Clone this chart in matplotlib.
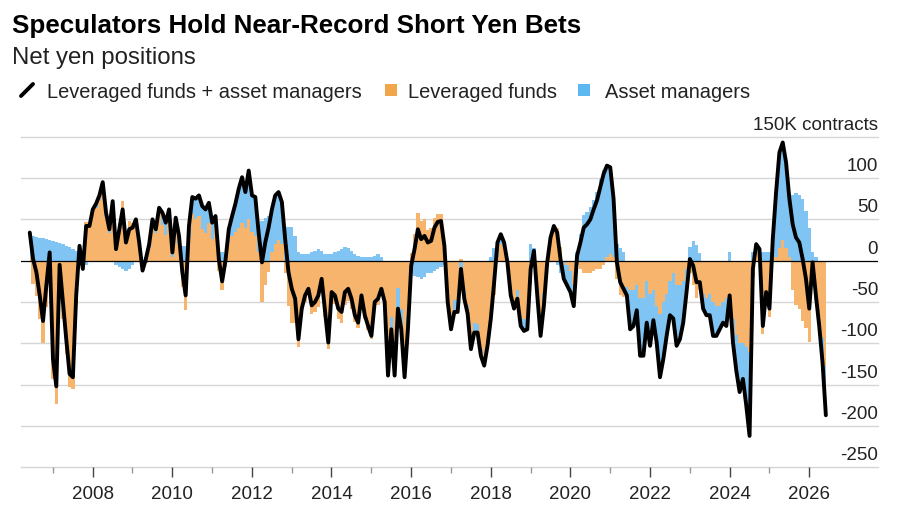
import numpy as np
import matplotlib.pyplot as plt
import matplotlib.transforms as mtransforms
from matplotlib.lines import Line2D
from matplotlib.patches import Rectangle

plt.rcParams['font.family'] = ['Liberation Sans', 'DejaVu Sans']

# --------------------------------------------------
# Data (thousand contracts), monthly, first point mid-2006
# --------------------------------------------------
start_year = 2006.42

total = [
    34, 2, -14, -42, -73, -30, 10, -119, -152, -5,
    -50, -95, -137, -141, -42, 18, -10, 42, 42, 62,
    69, 79, 95, 58, 38, 72, 14, 38, 62, 22,
    38, 40, 50, 22, -12, 2, 20, 50, 38, 64,
    58, 46, 62, 10, 52, 30, -14, -42, 42, 77,
    75, 79, 66, 62, 70, 46, 54, 2, -25, 0,
    38, 54, 69, 87, 101, 83, 109, 79, 77, 34,
    -2, 22, 40, 62, 79, 83, 71, 26, -14, -34,
    -46, -95, -58, -42, -34, -54, -50, -42, -22, -60,
    -99, -38, -42, -58, -62, -38, -34, -46, -66, -75,
    -42, -66, -79, -91, -50, -46, -34, -50, -139, -83,
    -139, -58, -83, -141, -83, -6, 14, 38, 26, 30,
    22, 24, 40, 47, 48, 18, -50, -83, -62, -62,
    -10, -46, -64, -107, -87, -87, -115, -127, -103, -70,
    -26, 22, 32, 22, -2, -42, -58, -46, -79, -85,
    -83, -10, 12, -42, -91, -54, -2, 28, 42, 34,
    2, -22, -30, -38, -55, 6, 22, 40, 44, 50,
    62, 73, 89, 105, 115, 113, 75, -2, -26, -34,
    -42, -83, -79, -60, -115, -115, -75, -103, -72, -99,
    -141, -119, -91, -66, -70, -103, -95, -75, -38, 2,
    -6, -26, -26, -58, -66, -66, -91, -91, -83, -75,
    -79, -42, -99, -133, -159, -143, -175, -212, -10, 20,
    14, -79, -38, -58, 26, 83, 131, 143, 119, 75,
    44, 28, 22, 2, -22, -58, -2, -42, -79, -123,
    -187,
]

asset_managers = [
    30, 30, 29, 28, 27, 26, 25, 24, 22, 21,
    20, 18, 16, 14, 12, 10, -5, -5, 0, 2,
    5, 5, 5, 5, 5, 2, -5, -8, -10, -12,
    -10, -5, 0, 2, 0, 5, 5, 5, 5, 5,
    15, 15, 10, 5, 5, 10, 18, 18, 15, 20,
    25, 25, 28, 28, 25, 20, 15, 15, 10, 8,
    15, 24, 34, 47, 56, 43, 59, 44, 47, 24,
    48, 52, 54, 52, 59, 58, 51, 41, 41, 41,
    30, 10, 8, 8, 8, 10, 12, 14, 12, 8,
    8, 8, 10, 12, 14, 16, 15, 12, 8, 6,
    5, 5, 5, 4, 6, 8, 5, 0, -10, -15,
    -20, -25, -25, -20, -15, -15, -18, -20, -22, -20,
    -15, -15, -12, -10, -8, -5, -10, -12, -15, -15,
    -12, -10, -10, -12, -12, -10, -8, -8, -5, 5,
    15, 18, 12, 5, 0, -5, -8, -10, -12, -15,
    -15, 20, 15, -10, -15, -15, 0, 0, 0, -5,
    -15, -20, -25, -25, -25, 11, 32, 55, 59, 65,
    74, 83, 99, 110, 110, 105, 70, 20, 15, 10,
    -10, -48, -44, -30, -70, -70, -50, -63, -37, -44,
    -76, -69, -51, -41, -55, -73, -65, -50, -28, 17,
    24, 19, 9, -18, -21, -26, -41, -36, -28, -25,
    -34, 10, -29, -43, -59, -43, -70, -102, 10, 10,
    10, 10, 10, 10, 26, 78, 116, 118, 104, 70,
    80, 82, 80, 75, 60, 40, 10, 5, -5, -30,
    -60,
]

year_ticks = list(range(2008, 2027, 2))
minor_ticks = list(range(2007, 2026, 2))
y_levels = [150, 100, 50, 0, -50, -100, -150, -200, -250]
y_labels = ["150K contracts", "100", "50", "0", "-50", "-100", "-150", "-200", "-250"]

ORANGE = "#F6B46C"
BLUE = "#7FC4F2"
ORANGE_KEY = "#F2A64A"
BLUE_KEY = "#5CB8F0"

# --------------------------------------------------
# Derived series
# --------------------------------------------------
total = np.array(total, dtype=float)
asset_managers = np.array(asset_managers, dtype=float)
leveraged = total - asset_managers
dates = start_year + np.arange(len(total)) / 12

same_side = np.sign(asset_managers) == np.sign(leveraged)
blue_bottom = np.where(same_side, leveraged, 0)

# --------------------------------------------------
# Figure
# --------------------------------------------------
W, H = 900, 510
fig = plt.figure(figsize=(W / 100, H / 100), dpi=100)
ax = fig.add_axes([21 / W, 1 - 468.3 / H, (878 - 21) / W, (468.3 - 137.7) / H])

ax.fill_between(dates, 0, leveraged, step="mid", color=ORANGE, lw=0, zorder=1)
ax.fill_between(dates, blue_bottom, blue_bottom + asset_managers, step="mid",
                color=BLUE, lw=0, zorder=1)
ax.plot(dates, total, color="black", lw=2.8, solid_joinstyle="round",
        solid_capstyle="round", zorder=5)

for v in y_levels:
    if v == 0:
        continue
    ax.axhline(v, color="#d6d6d6", lw=1, zorder=0, clip_on=False)
ax.axhline(0, color="black", lw=0.9, zorder=3)

ax.set_xlim(2006.2, 2027.73)
ax.set_ylim(-250, 150)
for s in ax.spines.values():
    s.set_visible(False)
ax.set_yticks([])

ax.set_xticks(year_ticks)
ax.set_xticklabels([str(y) for y in year_ticks])
ax.set_xticks(minor_ticks, minor=True)
ax.tick_params(axis="x", which="major", length=7, width=1, color="#444",
               pad=6, labelsize=13.5, labelcolor="#222")
ax.tick_params(axis="x", which="minor", length=4, width=1, color="#999")

trans = mtransforms.offset_copy(ax.get_yaxis_transform(), fig=fig,
                                x=0, y=8, units="dots")
for v, lab in zip(y_levels, y_labels):
    ax.text(1.0, v, lab, transform=trans, ha="right", va="baseline",
            fontsize=13.5, color="#222")

# --------------------------------------------------
# Title, subtitle, legend
# --------------------------------------------------
fig.text(12 / W, 1 - 33 / H, "Speculators Hold Near-Record Short Yen Bets",
         fontsize=18.7, fontweight="bold", color="black", va="baseline")
fig.text(12 / W, 1 - 64 / H, "Net yen positions",
         fontsize=17.3, color="#222", va="baseline")

fig.add_artist(Line2D([21 / W, 33 / W], [1 - 97 / H, 1 - 85 / H],
                      transform=fig.transFigure, color="black", lw=2.8,
                      solid_capstyle="round"))
fig.text(47 / W, 1 - 98 / H, "Leveraged funds + asset managers",
         fontsize=14.4, color="#222", va="baseline")
fig.add_artist(Rectangle((385 / W, 1 - 97 / H), 12 / W, 12 / H,
                         transform=fig.transFigure, color=ORANGE_KEY, lw=0))
fig.text(408 / W, 1 - 98 / H, "Leveraged funds",
         fontsize=14.4, color="#222", va="baseline")
fig.add_artist(Rectangle((578 / W, 1 - 97 / H), 12 / W, 12 / H,
                         transform=fig.transFigure, color=BLUE_KEY, lw=0))
fig.text(605 / W, 1 - 98 / H, "Asset managers",
         fontsize=14.4, color="#222", va="baseline")

fig.savefig("out.png", dpi=100)
